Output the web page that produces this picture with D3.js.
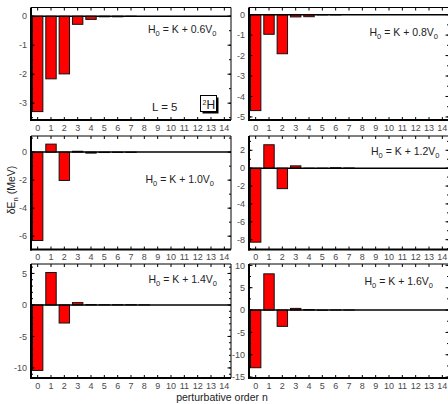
<!DOCTYPE html>
<html>
<head>
<meta charset="utf-8">
<script src="https://cdn.jsdelivr.net/npm/d3@7"></script>
<style>
body { margin: 0; background: #fff; }
svg { display: block; font-family: "Liberation Sans", Arial, sans-serif; }
.tick-label { font-size: 9px; fill: #4a4a4a; }
.panel-title { font-size: 10.5px; fill: #222; }
</style>
</head>
<body>
<svg id="chart" width="448" height="404"></svg>
<script>
// perturbative orders n = 0..14
var orders = [0, 1, 2, 3, 4, 5, 6, 7, 8, 9, 10, 11, 12, 13, 14];

// dE_n (MeV) for each choice of H0 = K + c V0
var dE06 = [-3.29, -2.16, -1.99, -0.28, -0.11, -0.02, -0.02, -0.01, 0, 0, 0, 0, 0, 0, 0];
var dE08 = [-4.69, -0.96, -1.91, -0.11, -0.10, -0.01, -0.01, 0, 0, 0, 0, 0, 0, 0, 0];
var dE10 = [-6.31, 0.57, -2.02, 0.06, -0.07, -0.03, -0.02, -0.02, 0, 0, 0, 0, 0, 0, 0];
var dE12 = [-8.28, 2.62, -2.29, 0.26, -0.03, -0.02, 0.05, 0.02, 0, 0, 0, 0, 0, 0, 0];
var dE14 = [-10.4, 5.15, -2.87, 0.37, 0.06, 0.03, 0.04, 0.04, 0.01, 0, 0, 0, 0, 0, 0];
var dE16 = [-12.9, 8.1, -3.65, 0.37, 0.12, -0.05, 0.02, 0.01, 0, 0, 0, 0, 0, 0, 0];

// H0 coefficient labels
var coefLabels = ["0.6", "0.8", "1.0", "1.2", "1.4", "1.6"];

// y axis ranges, major and minor tick steps per panel
var yDomains = [[-3.58, 0.3], [-5.15, 0.35], [-6.95, 1.15], [-9.1, 3.6], [-11.6, 6.5], [-15.2, 10.3]];
var yMajor = [1, 1, 2, 2, 5, 5];
var yMinor = [0.5, 0.5, 1, 1, 1, 2.5];

var series = [dE06, dE08, dE10, dE12, dE14, dE16];

var svg = d3.select("#chart");

// panel geometry
var colX = [31, 249], panelW = 200;
var rowY = [[7.5, 120], [136, 249.5], [264, 378]];
var labelPos = [[148, 33], [369.5, 36], [145.5, 183], [371, 155], [148.5, 283], [364.5, 285]];

function ticksFor(domain, step) {
  var out = [];
  var start = Math.ceil(domain[0] / step - 1e-9) * step;
  for (var v = start; v <= domain[1] + 1e-9; v += step) out.push(+v.toFixed(4));
  return out;
}

series.forEach(function (vals, i) {
  var col = i % 2, row = Math.floor(i / 2);
  var x0 = colX[col], x1 = x0 + panelW;
  var y0 = rowY[row][0], y1 = rowY[row][1];

  var x = d3.scaleLinear().domain([-0.5, 14.5]).range([x0, x1]);
  var y = d3.scaleLinear().domain(yDomains[i]).range([y1, y0]);

  var g = svg.append("g");

  // bars
  g.selectAll("rect.bar")
    .data(orders)
    .enter()
    .append("rect")
    .attr("class", "bar")
    .attr("x", function (n) { return x(n - 0.39); })
    .attr("width", function (n) { return x(n + 0.39) - x(n - 0.39); })
    .attr("y", function (n) { return y(Math.max(0, vals[n])); })
    .attr("height", function (n) { return Math.abs(y(vals[n]) - y(0)); })
    .style("fill", "#ff0000")
    .style("stroke", "#111")
    .style("stroke-width", 1);

  // zero line
  g.append("line")
    .attr("x1", x0).attr("x2", x1)
    .attr("y1", y(0)).attr("y2", y(0))
    .style("stroke", "#000").style("stroke-width", 1.5);

  // frame: top and right thin, left and bottom thick
  g.append("line").attr("x1", x0).attr("x2", x1).attr("y1", y0).attr("y2", y0)
    .style("stroke", "#000").style("stroke-width", 1);
  g.append("line").attr("x1", x1).attr("x2", x1).attr("y1", y0).attr("y2", y1)
    .style("stroke", "#000").style("stroke-width", 1);
  g.append("line").attr("x1", x0).attr("x2", x0).attr("y1", y0).attr("y2", y1 + 1)
    .style("stroke", "#000").style("stroke-width", 2);
  g.append("line").attr("x1", x0 - 1).attr("x2", x1).attr("y1", y1).attr("y2", y1)
    .style("stroke", "#000").style("stroke-width", 2);

  // x ticks (inward, top and bottom)
  orders.forEach(function (n) {
    g.append("line").attr("x1", x(n)).attr("x2", x(n)).attr("y1", y1).attr("y2", y1 - 3)
      .style("stroke", "#000").style("stroke-width", 1);
    g.append("line").attr("x1", x(n)).attr("x2", x(n)).attr("y1", y0).attr("y2", y0 + 3)
      .style("stroke", "#000").style("stroke-width", 1);
  });
  g.selectAll("text.xt")
    .data(orders)
    .enter()
    .append("text")
    .attr("class", "tick-label")
    .attr("x", function (n) { return x(n); })
    .attr("y", y1 + 10.5)
    .attr("text-anchor", "middle")
    .text(function (n) { return n; });

  // y ticks
  var minors = ticksFor(yDomains[i], yMinor[i]);
  var majors = ticksFor(yDomains[i], yMajor[i]);
  minors.forEach(function (v) {
    g.append("line").attr("x1", x0).attr("x2", x0 + 2).attr("y1", y(v)).attr("y2", y(v))
      .style("stroke", "#000").style("stroke-width", 1);
    g.append("line").attr("x1", x1).attr("x2", x1 - 2).attr("y1", y(v)).attr("y2", y(v))
      .style("stroke", "#000").style("stroke-width", 1);
  });
  majors.forEach(function (v) {
    g.append("line").attr("x1", x0).attr("x2", x0 + 3.5).attr("y1", y(v)).attr("y2", y(v))
      .style("stroke", "#000").style("stroke-width", 1);
    g.append("line").attr("x1", x1).attr("x2", x1 - 3.5).attr("y1", y(v)).attr("y2", y(v))
      .style("stroke", "#000").style("stroke-width", 1);
  });
  g.selectAll("text.yt")
    .data(majors)
    .enter()
    .append("text")
    .attr("class", "tick-label")
    .attr("x", x0 - 4)
    .attr("y", function (v) { return y(v) + 3.2; })
    .attr("text-anchor", "end")
    .text(function (v) { return v; });

  // panel label H0 = K + c V0
  var t = g.append("text")
    .attr("class", "panel-title")
    .attr("x", labelPos[i][0])
    .attr("y", labelPos[i][1]);
  t.append("tspan").text("H");
  t.append("tspan").attr("dy", 2.5).style("font-size", "7.5px").text("0");
  t.append("tspan").attr("dy", -2.5).text(" = K + " + coefLabels[i] + "V");
  t.append("tspan").attr("dy", 2.5).style("font-size", "7.5px").text("0");
});

// L = 5 and 2H box in first panel
svg.append("text").attr("class", "panel-title")
  .attr("x", 152).attr("y", 110.5).style("font-size", "11.5px").text("L = 5");
svg.append("rect").attr("x", 202.5).attr("y", 97.5).attr("width", 16).attr("height", 16)
  .style("fill", "#000");
svg.append("rect").attr("x", 200.5).attr("y", 95.5).attr("width", 16).attr("height", 16)
  .style("fill", "#fff").style("stroke", "#000").style("stroke-width", 1);
var iso = svg.append("text").attr("class", "panel-title").attr("x", 202.5).attr("y", 109)
  .style("font-size", "12px");
iso.append("tspan").attr("dy", -4).style("font-size", "7px").text("2");
iso.append("tspan").attr("dy", 4).text("H");

// axis titles
var yt = svg.append("text").attr("class", "panel-title")
  .attr("transform", "translate(15,190) rotate(-90)")
  .attr("text-anchor", "middle");
yt.append("tspan").text("δE");
yt.append("tspan").attr("dy", 2.5).style("font-size", "7.5px").text("n");
yt.append("tspan").attr("dy", -2.5).text(" (MeV)");

svg.append("text").attr("class", "panel-title")
  .attr("x", 222).attr("y", 400.5)
  .attr("text-anchor", "middle")
  .text("perturbative order n");
</script>
</body>
</html>
